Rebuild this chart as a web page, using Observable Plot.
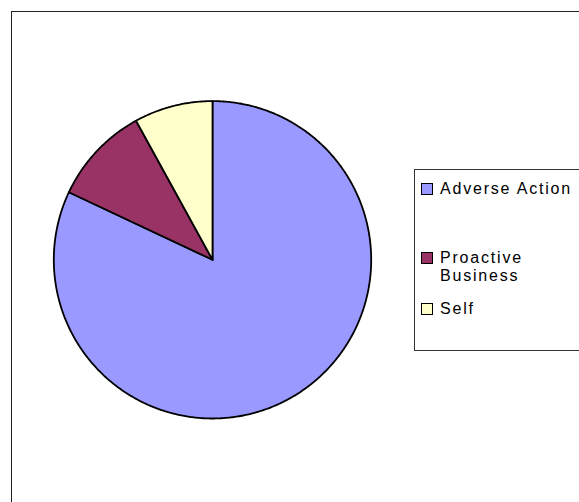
<!DOCTYPE html>
<html>
<head>
<meta charset="utf-8">
<script src="https://cdn.jsdelivr.net/npm/d3@7"></script>
<script src="https://cdn.jsdelivr.net/npm/@observablehq/plot@0.6"></script>
<style>
  html, body { margin: 0; padding: 0; background: #fff; overflow: hidden; }
  #wrap { position: relative; width: 579px; height: 502px; overflow: hidden; }
  #frame { position: absolute; left: 11px; top: 11px; width: 700px; height: 700px; border: 1.5px solid #222; box-sizing: border-box; }
  #chart { position: absolute; left: 0; top: 0; }
  #legend { position: absolute; left: 414px; top: 169px; width: 300px; height: 182px; border: 1px solid #333; box-sizing: border-box;
            font-family: "Liberation Sans", Arial, sans-serif; font-size: 16px; letter-spacing: 1.8px; color: #000; }
  .item { position: absolute; left: 25px; line-height: 17.5px; }
  .sw { position: absolute; left: 6px; width: 10px; height: 10px; border: 1.3px solid #000; }
</style>
</head>
<body>
<div id="wrap">
  <div id="frame"></div>
  <div id="chart"></div>
  <div id="legend"></div>
</div>
<script>
const categories = ["Adverse Action", "Proactive Business", "Self"];
const values = [82, 10, 8];
const colors = ["#9999FF", "#993366", "#FFFFCC"];

// Pie geometry from data
const arcs = d3.pie().sort(null).value(d => d.value)(categories.map((name, i) => ({name, value: values[i]})));
const pts = [];
for (const a of arcs) {
  const name = a.data.name;
  pts.push({name, x: 0, y: 0});
  const n = Math.max(2, Math.ceil((a.endAngle - a.startAngle) / (Math.PI / 360)));
  for (let k = 0; k <= n; k++) {
    const t = a.startAngle + (a.endAngle - a.startAngle) * k / n;
    pts.push({name, x: Math.sin(t), y: Math.cos(t)});
  }
  pts.push({name, x: 0, y: 0});
}

const cx = 212, cy = 259.3, r = 158.7, W = 579, H = 502;
const plot = Plot.plot({
  width: W, height: H,
  marginLeft: cx - r, marginRight: W - (cx + r),
  marginTop: cy - r, marginBottom: H - (cy + r),
  x: {domain: [-1, 1], axis: null},
  y: {domain: [-1, 1], axis: null},
  color: {domain: categories, range: colors},
  marks: [
    Plot.line(pts, {x: "x", y: "y", z: "name", fill: "name", stroke: "#000", strokeWidth: 1.8, strokeLinejoin: "round", curve: "linear"})
  ]
});
document.getElementById("chart").appendChild(plot);

// Legend
const legend = document.getElementById("legend");
const rows = [
  {lines: ["Adverse Action"], top: 10},
  {lines: ["Proactive", "Business"], top: 79},
  {lines: ["Self"], top: 130}
];
rows.forEach((row, i) => {
  const sw = document.createElement("div");
  sw.className = "sw";
  sw.style.top = (row.top + 3) + "px";
  sw.style.background = colors[i];
  legend.appendChild(sw);
  const it = document.createElement("div");
  it.className = "item";
  it.style.top = row.top + "px";
  it.innerHTML = row.lines.join("<br>");
  legend.appendChild(it);
});
</script>
</body>
</html>
